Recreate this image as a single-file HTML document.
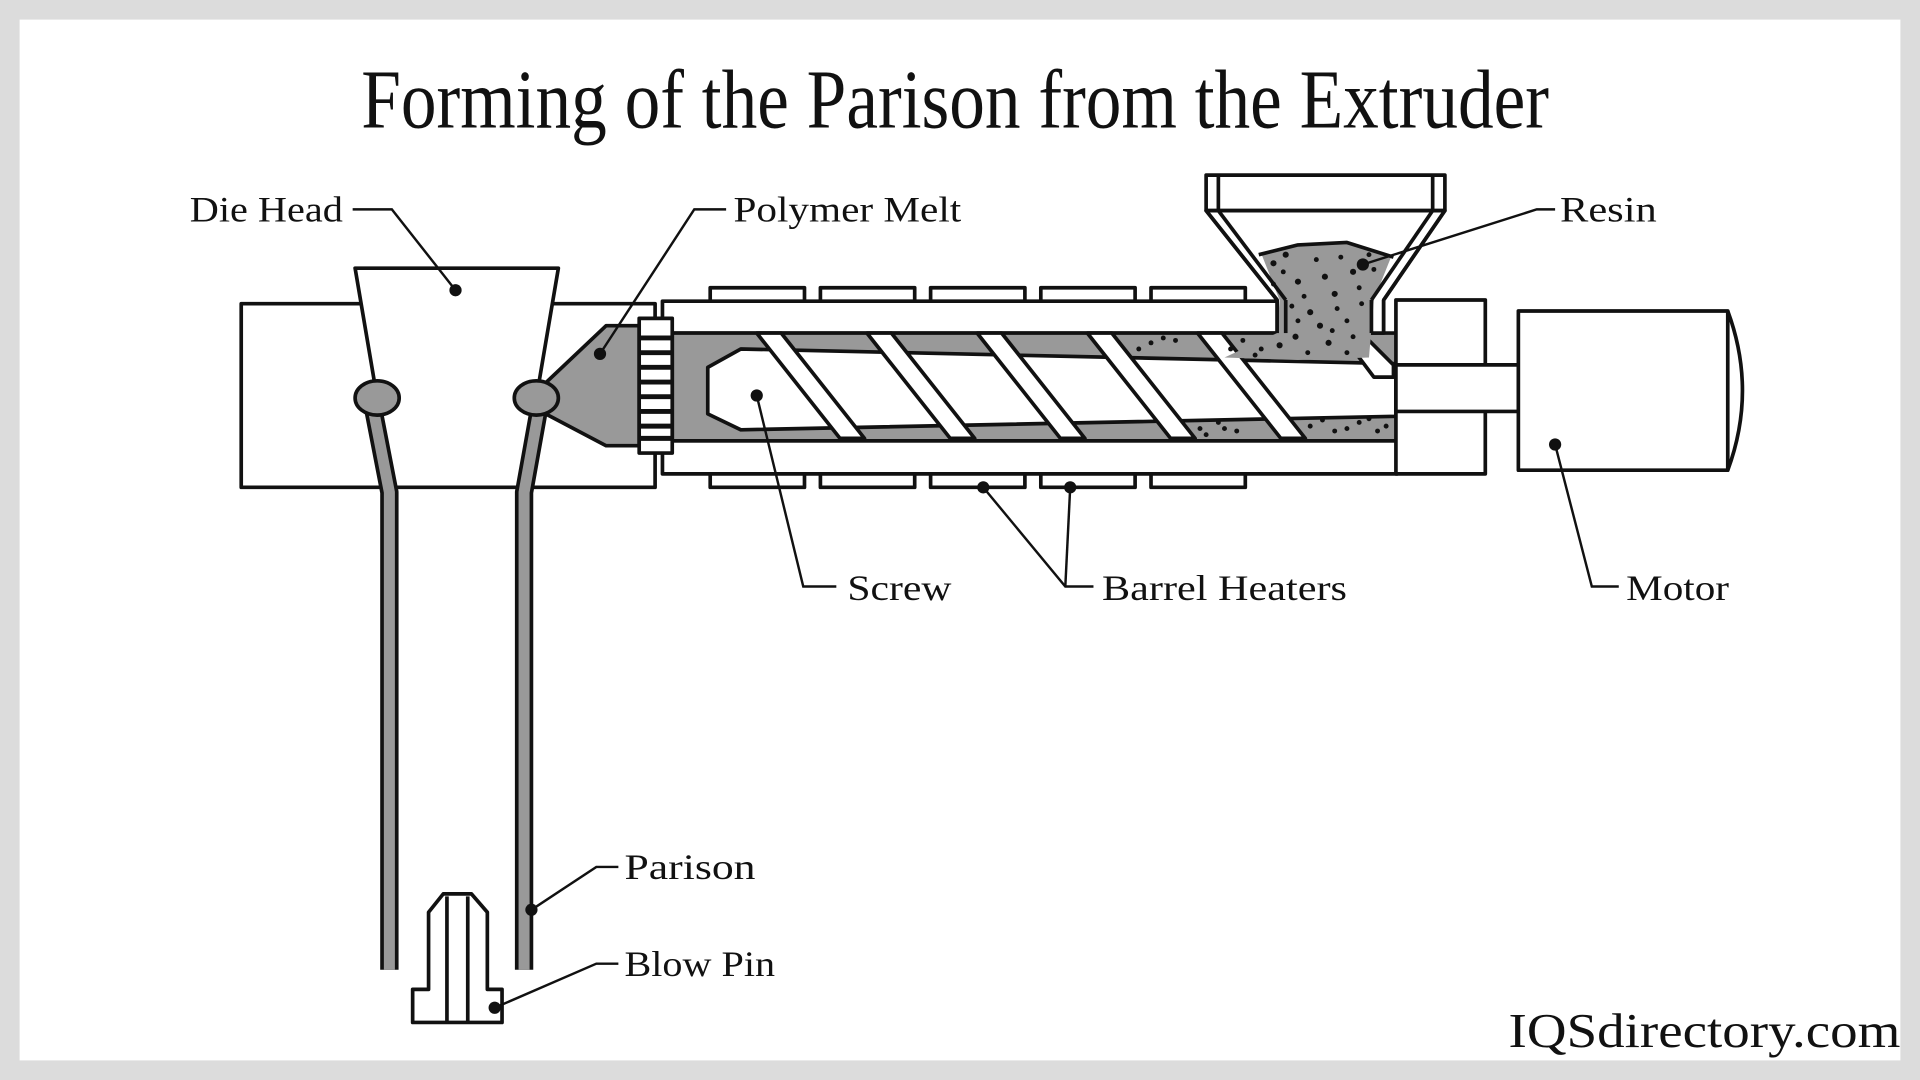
<!DOCTYPE html>
<html><head><meta charset="utf-8"><style>
html,body{margin:0;padding:0;background:#dcdcdc;}
svg{display:block;}
</style></head><body>
<svg width="1920" height="1080" viewBox="0 0 1568 882" xmlns="http://www.w3.org/2000/svg">
<rect x="0" y="0" width="1568" height="882" fill="#dcdcdc"/>
<rect x="16" y="16" width="1536" height="850" fill="#fff"/>
<text x="780" y="104" text-anchor="middle" font-family="Liberation Serif, serif" font-size="68" textLength="970" lengthAdjust="spacingAndGlyphs" fill="#111">Forming of the Parison from the Extruder</text>

<g stroke="#111" stroke-width="3" stroke-linejoin="round">
<rect x="197" y="248" width="338" height="150" fill="#fff"/>
<polyline points="305,335 318,402 318,792" fill="none" stroke="#111" stroke-width="15"/>
<polyline points="305,335 318,402 318,792" fill="none" stroke="#999" stroke-width="9"/>
<polyline points="440,335 428,402 428,792" fill="none" stroke="#111" stroke-width="15"/>
<polyline points="440,335 428,402 428,792" fill="none" stroke="#999" stroke-width="9"/>
<polygon points="440,318 495,266 522,266 522,364 495,364 440,335" fill="#999"/>
<polygon points="290,219 456,219 438,325 308,325" fill="#fff" stroke="none"/>
<polyline points="308,325 290,219 456,219 438,325" fill="none"/>
<ellipse cx="308" cy="325" rx="18" ry="14" fill="#999"/>
<ellipse cx="438" cy="325" rx="18" ry="14" fill="#999"/>
<g fill="#fff">
<rect x="580" y="235" width="77" height="12"/><rect x="670" y="235" width="77" height="12"/><rect x="760" y="235" width="77" height="12"/><rect x="850" y="235" width="77" height="12"/><rect x="940" y="235" width="77" height="12"/>
<rect x="580" y="386" width="77" height="12"/><rect x="670" y="386" width="77" height="12"/><rect x="760" y="386" width="77" height="12"/><rect x="850" y="386" width="77" height="12"/><rect x="940" y="386" width="77" height="12"/>
</g>
<rect x="541" y="246" width="504" height="26" fill="#fff"/>
<rect x="541" y="360" width="600" height="27" fill="#fff"/>
<rect x="549" y="272" width="592" height="88" fill="#999"/>
<polygon points="578,300 605,285 1140,297 1140,340 605,351 578,338" fill="#fff"/>
<g fill="#fff">
<polygon points="618,272 638,272 706,358 686,358"/>
<polygon points="708,272 728,272 796,358 776,358"/>
<polygon points="798,272 818,272 886,358 866,358"/>
<polygon points="888,272 908,272 976,358 956,358"/>
<polygon points="978,272 998,272 1066,358 1046,358"/>
<polygon points="1095,272 1112,272 1138,298 1138,308 1122,308"/>
</g>
<rect x="522" y="260" width="27" height="110" fill="#fff"/>
<g stroke-width="4"><line x1="522" y1="276" x2="549" y2="276"/><line x1="522" y1="288" x2="549" y2="288"/><line x1="522" y1="300" x2="549" y2="300"/><line x1="522" y1="312" x2="549" y2="312"/><line x1="522" y1="324" x2="549" y2="324"/><line x1="522" y1="336" x2="549" y2="336"/><line x1="522" y1="348" x2="549" y2="348"/><line x1="522" y1="358" x2="549" y2="358"/></g>
<rect x="985" y="143" width="195" height="29" fill="#fff"/>
<line x1="995" y1="143" x2="995" y2="172"/><line x1="1170" y1="143" x2="1170" y2="172"/>
<polygon points="985,172 1180,172 1130,245 1130,272 1043,272 1043,245" fill="#fff"/>
<polygon points="1030,207 1060,200 1100,198 1136,210 1122,245 1118,292 1060,294 1000,292 1043,272 1045,245" fill="#999" stroke="none"/>
<polyline points="1028,208 1060,200 1100,198 1138,210" fill="none"/>
<line x1="985" y1="172" x2="1043" y2="245"/><line x1="995" y1="172" x2="1050" y2="245"/>
<line x1="1180" y1="172" x2="1130" y2="245"/><line x1="1170" y1="172" x2="1120" y2="245"/>
<line x1="1043" y1="245" x2="1043" y2="272"/><line x1="1050" y1="245" x2="1050" y2="272"/>
<line x1="1120" y1="245" x2="1120" y2="272"/><line x1="1130" y1="245" x2="1130" y2="272"/>
<rect x="1140" y="245" width="73" height="142" fill="#fff"/>
<rect x="1140" y="298" width="100" height="38" fill="#fff"/>
<rect x="1240" y="254" width="171" height="130" fill="#fff"/>
<path d="M1411,254 Q1435,319 1411,384" fill="none"/>
<polygon points="337,835 410,835 410,808 398,808 398,745 385,730 362,730 350,745 350,808 337,808" fill="#fff"/>
<line x1="365" y1="732" x2="365" y2="835"/><line x1="382" y1="732" x2="382" y2="835"/>
</g>
<g fill="#111">
<circle cx="1040" cy="215" r="2.5"/><circle cx="1060" cy="230" r="2.5"/><circle cx="1075" cy="212" r="2"/><circle cx="1090" cy="240" r="2.5"/><circle cx="1105" cy="222" r="2.5"/><circle cx="1070" cy="255" r="2.5"/><circle cx="1100" cy="262" r="2"/><circle cx="1058" cy="275" r="2.5"/><circle cx="1085" cy="280" r="2.5"/><circle cx="1030" cy="285" r="2"/><circle cx="1015" cy="278" r="2"/><circle cx="1112" cy="248" r="2"/><circle cx="1050" cy="208" r="2.5"/><circle cx="1118" cy="208" r="2"/>
<circle cx="1048" cy="222" r="2"/><circle cx="1065" cy="242" r="2"/><circle cx="1082" cy="226" r="2.5"/><circle cx="1095" cy="210" r="2"/><circle cx="1110" cy="235" r="2"/><circle cx="1078" cy="266" r="2.5"/><circle cx="1060" cy="262" r="2"/><circle cx="1092" cy="252" r="2"/><circle cx="1105" cy="275" r="2"/><circle cx="1045" cy="282" r="2.5"/><circle cx="1068" cy="288" r="2"/><circle cx="1025" cy="290" r="2"/><circle cx="1100" cy="288" r="2"/><circle cx="1088" cy="270" r="2"/><circle cx="1055" cy="250" r="2"/><circle cx="1040" cy="232" r="2"/><circle cx="1122" cy="220" r="2"/>
<circle cx="980" cy="350" r="2"/><circle cx="995" cy="345" r="2"/><circle cx="1010" cy="352" r="2"/><circle cx="1070" cy="348" r="2"/><circle cx="1090" cy="352" r="2"/><circle cx="1110" cy="345" r="2"/><circle cx="1125" cy="352" r="2"/><circle cx="940" cy="280" r="2"/><circle cx="960" cy="278" r="2"/>
<circle cx="985" cy="355" r="2"/><circle cx="1000" cy="350" r="2"/><circle cx="1080" cy="343" r="2"/><circle cx="1100" cy="350" r="2"/><circle cx="1118" cy="342" r="2"/><circle cx="1132" cy="348" r="2"/><circle cx="930" cy="285" r="2"/><circle cx="950" cy="276" r="2"/><circle cx="1005" cy="285" r="2"/>
</g>
<g stroke="#111" stroke-width="2" fill="none">
<polyline points="288,171 320,171 372,237"/>
<polyline points="593,171 567,171 490,289"/>
<polyline points="1270,171 1255,171 1113,216"/>
<polyline points="683,479 656,479 618,323"/>
<polyline points="893,479 870,479 803,398"/>
<polyline points="870,479 874,398"/>
<polyline points="1322,479 1300,479 1270,363"/>
<polyline points="505,708 487,708 434,743"/>
<polyline points="505,787 487,787 404,823"/>
</g>
<g fill="#111">
<circle cx="372" cy="237" r="5"/><circle cx="490" cy="289" r="5"/><circle cx="1113" cy="216" r="5"/><circle cx="618" cy="323" r="5"/><circle cx="803" cy="398" r="5"/><circle cx="874" cy="398" r="5"/><circle cx="1270" cy="363" r="5"/><circle cx="434" cy="743" r="5"/><circle cx="404" cy="823" r="5"/>
</g>
<g font-family="Liberation Serif, serif" font-size="29" fill="#111" lengthAdjust="spacingAndGlyphs">
<text x="155" y="181" textLength="125" lengthAdjust="spacingAndGlyphs">Die Head</text>
<text x="599" y="181" textLength="186" lengthAdjust="spacingAndGlyphs">Polymer Melt</text>
<text x="1274" y="181" textLength="79" lengthAdjust="spacingAndGlyphs">Resin</text>
<text x="692" y="490" textLength="85" lengthAdjust="spacingAndGlyphs">Screw</text>
<text x="900" y="490" textLength="200" lengthAdjust="spacingAndGlyphs">Barrel Heaters</text>
<text x="1328" y="490" textLength="84" lengthAdjust="spacingAndGlyphs">Motor</text>
<text x="510" y="718" textLength="107" lengthAdjust="spacingAndGlyphs">Parison</text>
<text x="510" y="797" textLength="123" lengthAdjust="spacingAndGlyphs">Blow Pin</text>
</g>
<text x="1552" y="855" text-anchor="end" font-family="Liberation Serif, serif" font-size="40" fill="#111" textLength="320" lengthAdjust="spacingAndGlyphs">IQSdirectory.com</text>
</svg>
</body></html>
